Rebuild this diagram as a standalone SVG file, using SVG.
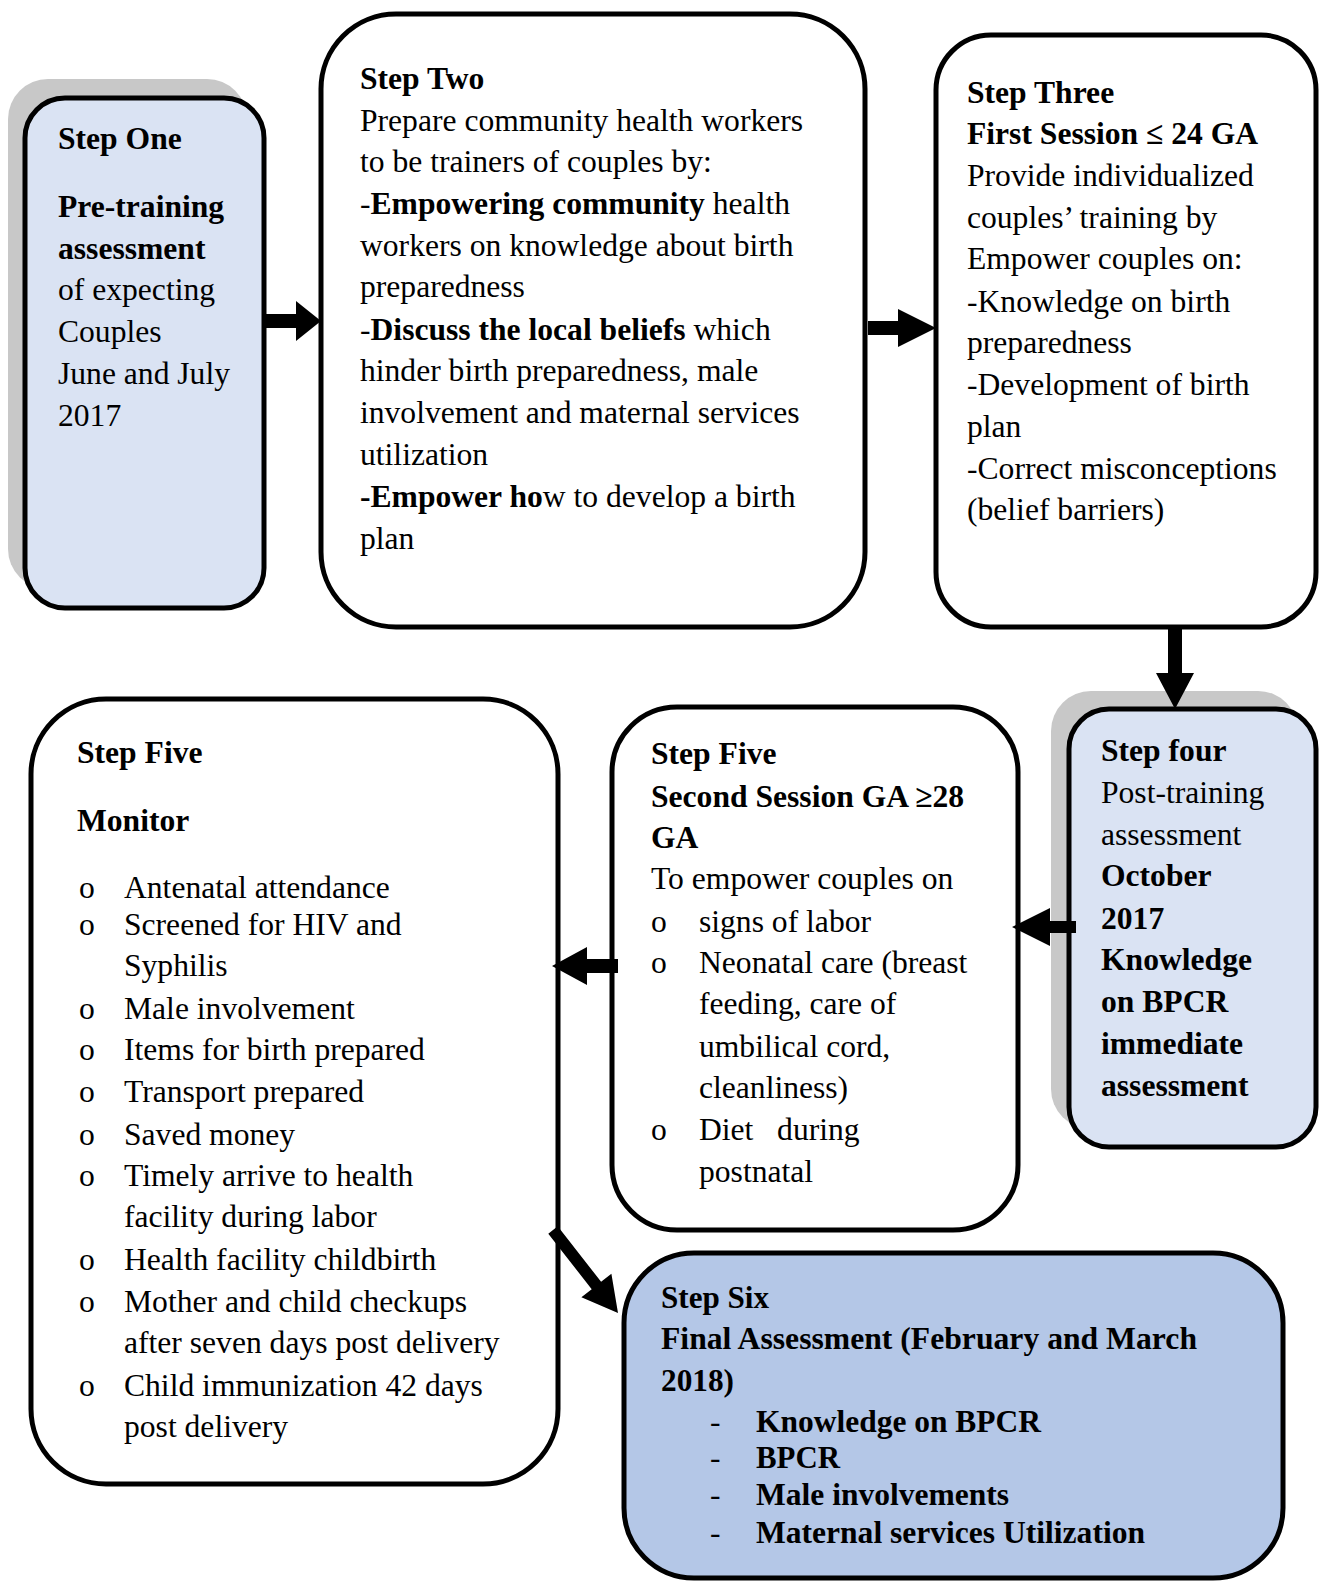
<svg xmlns="http://www.w3.org/2000/svg" width="1323" height="1581" viewBox="0 0 1323 1581">
<style>
.box{stroke:#000;stroke-width:5;}
.w{fill:#fff;}
.lb{fill:#dae3f3;}
.db{fill:#b4c7e7;}
.sh{fill:#c8c8c8;}
text{font-family:"Liberation Serif","Times New Roman",serif;font-size:31.6px;fill:#000;}
.b{font-weight:bold;}
.arr{fill:#000;}
</style>
<rect width="1323" height="1581" fill="#fff"/>

<g id="step-one">
<rect class="sh" x="8" y="79" width="239" height="510" rx="40"/>
<rect class="box lb" x="25" y="98" width="239" height="510" rx="40"/>
<text class="b" x="58" y="149">Step One</text>
<text class="b" x="58" y="217">Pre-training</text>
<text class="b" x="58" y="259">assessment</text>
<text x="58" y="300">of expecting</text>
<text x="58" y="342">Couples</text>
<text x="58" y="384">June and July</text>
<text x="58" y="426">2017</text>
</g>

<g id="step-two">
<rect class="box w" x="321" y="14" width="544" height="613" rx="75"/>
<text class="b" x="360" y="89">Step Two</text>
<text x="360" y="131">Prepare community health workers</text>
<text x="360" y="172">to be trainers of couples by:</text>
<text x="360" y="214">-<tspan class="b">Empowering community</tspan> health</text>
<text x="360" y="256">workers on knowledge about birth</text>
<text x="360" y="297">preparedness</text>
<text x="360" y="340">-<tspan class="b">Discuss the local beliefs</tspan> which</text>
<text x="360" y="381">hinder birth preparedness, male</text>
<text x="360" y="423">involvement and maternal services</text>
<text x="360" y="465">utilization</text>
<text x="360" y="507"><tspan class="b">-Empower ho</tspan>w to develop a birth</text>
<text x="360" y="549">plan</text>
</g>

<g id="step-three">
<rect class="box w" x="936" y="35" width="380" height="592" rx="55"/>
<text class="b" x="967" y="103">Step Three</text>
<text class="b" x="967" y="144">First Session ≤ 24 GA</text>
<text x="967" y="186">Provide individualized</text>
<text x="967" y="228">couples’ training by</text>
<text x="967" y="269">Empower couples on:</text>
<text x="967" y="312">-Knowledge on birth</text>
<text x="967" y="353">preparedness</text>
<text x="967" y="395">-Development of birth</text>
<text x="967" y="437">plan</text>
<text x="967" y="479">-Correct misconceptions</text>
<text x="967" y="520">(belief barriers)</text>
</g>

<g id="step-four">
<rect class="sh" x="1051" y="691" width="247" height="438" rx="40"/>
<rect class="box lb" x="1069" y="709" width="247" height="438" rx="40"/>
<text class="b" x="1101" y="761">Step four</text>
<text x="1101" y="803">Post-training</text>
<text x="1101" y="845">assessment</text>
<text class="b" x="1101" y="886">October</text>
<text class="b" x="1101" y="929">2017</text>
<text class="b" x="1101" y="970">Knowledge</text>
<text class="b" x="1101" y="1012">on BPCR</text>
<text class="b" x="1101" y="1054">immediate</text>
<text class="b" x="1101" y="1096">assessment</text>
</g>

<g id="step-five-second">
<rect class="box w" x="612" y="707" width="406" height="523" rx="65"/>
<text class="b" x="651" y="764">Step Five</text>
<text class="b" x="651" y="807">Second Session GA ≥28</text>
<text class="b" x="651" y="848">GA</text>
<text x="651" y="889">To empower couples on</text>
<text x="651" y="932">o</text><text x="699" y="932">signs of labor</text>
<text x="651" y="973">o</text><text x="699" y="973">Neonatal care (breast</text>
<text x="699" y="1014">feeding, care of</text>
<text x="699" y="1057">umbilical cord,</text>
<text x="699" y="1098">cleanliness)</text>
<text x="651" y="1140">o</text><text x="699" y="1140" xml:space="preserve">Diet   during</text>
<text x="699" y="1182">postnatal</text>
</g>

<g id="step-five-monitor">
<rect class="box w" x="31" y="699" width="527" height="785" rx="75"/>
<text class="b" x="77" y="763">Step Five</text>
<text class="b" x="77" y="831">Monitor</text>
<text x="79" y="898">o</text><text x="124" y="898">Antenatal attendance</text>
<text x="79" y="935">o</text><text x="124" y="935">Screened for HIV and</text>
<text x="124" y="976">Syphilis</text>
<text x="79" y="1019">o</text><text x="124" y="1019">Male involvement</text>
<text x="79" y="1060">o</text><text x="124" y="1060">Items for birth prepared</text>
<text x="79" y="1102">o</text><text x="124" y="1102">Transport prepared</text>
<text x="79" y="1145">o</text><text x="124" y="1145">Saved money</text>
<text x="79" y="1186">o</text><text x="124" y="1186">Timely arrive to health</text>
<text x="124" y="1227">facility during labor</text>
<text x="79" y="1270">o</text><text x="124" y="1270">Health facility childbirth</text>
<text x="79" y="1312">o</text><text x="124" y="1312">Mother and child checkups</text>
<text x="124" y="1353">after seven days post delivery</text>
<text x="79" y="1396">o</text><text x="124" y="1396">Child immunization 42 days</text>
<text x="124" y="1437">post delivery</text>
</g>

<g id="step-six">
<rect class="box db" x="624" y="1253" width="659" height="325" rx="70"/>
<text class="b" x="661" y="1308" textLength="108" lengthAdjust="spacingAndGlyphs">Step Six</text>
<text class="b" x="661" y="1349" textLength="536" lengthAdjust="spacingAndGlyphs">Final Assessment (February and March</text>
<text class="b" x="661" y="1391" textLength="73" lengthAdjust="spacingAndGlyphs">2018)</text>
<text x="710" y="1432">-</text><text class="b" x="756" y="1432" textLength="285" lengthAdjust="spacingAndGlyphs">Knowledge on BPCR</text>
<text x="710" y="1468">-</text><text class="b" x="756" y="1468" textLength="84" lengthAdjust="spacingAndGlyphs">BPCR</text>
<text x="710" y="1505">-</text><text class="b" x="756" y="1505" textLength="253" lengthAdjust="spacingAndGlyphs">Male involvements</text>
<text x="710" y="1543">-</text><text class="b" x="756" y="1543" textLength="389" lengthAdjust="spacingAndGlyphs">Maternal services Utilization</text>
</g>

<g id="connectors">
<polygon class="arr" points="266,314 296,314 296,301 321,321 296,341 296,328 266,328"/>
<polygon class="arr" points="868,321 898,321 898,309 936,328 898,347 898,335 868,335"/>
<polygon class="arr" points="1168,627 1182,627 1182,673 1194,673 1175,709 1156,673 1168,673"/>
<polygon class="arr" points="1076,921 1050,921 1050,908 1012,927 1050,946 1050,933 1076,933"/>
<polygon class="arr" points="618,959 587,959 587,947 552,966 587,985 587,973 618,973"/>
<polygon class="arr" points="548.3,1233.7 557.7,1226.3 601.1,1281.8 611.4,1273.8 618,1313 581.4,1297.2 591.7,1289.2"/>
</g>
</svg>
